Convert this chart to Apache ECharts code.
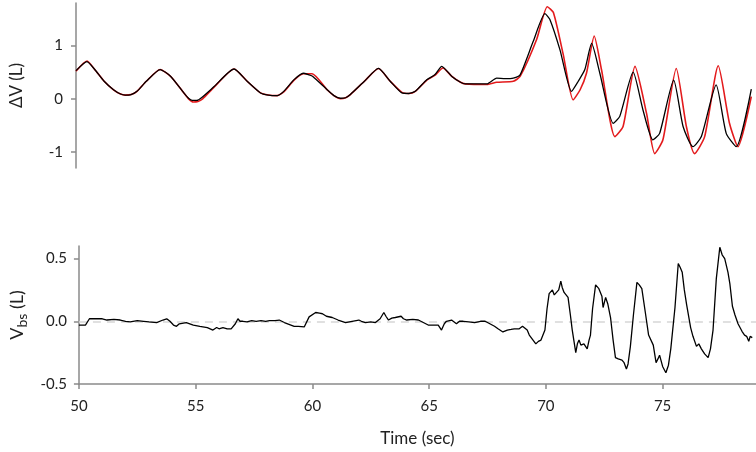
<!DOCTYPE html>
<html><head><meta charset="utf-8">
<script src="https://cdn.jsdelivr.net/npm/echarts@6/dist/echarts.min.js"></script>
<style>html,body{margin:0;padding:0;background:#fff}#c{width:756px;height:452px}</style>
</head><body><div id="c"></div>
<script>
// ---- data ----
const timeBlack = [50.0,50.47,50.8,51.2,51.6,51.9,52.1,52.35,52.6,53.0,53.59,54.04,54.6,54.8,54.96,55.15,55.35,55.89,56.74,57.3,57.87,58.2,58.58,58.86,59.3,59.69,59.93,60.1,60.71,61.0,61.28,61.5,61.7,62.3,62.9,63.4,63.9,64.2,64.47,64.96,65.3,65.6,66.03,66.4,66.6,67.52,67.94,68.3,68.65,68.94,69.5,70.0,70.21,70.64,71.13,71.42,71.7,71.99,72.34,72.91,73.19,73.76,74.18,74.6,74.89,75.49,75.89,76.31,76.67,77.3,77.73,78.16,78.8];
const dvBlack   = [0.53,0.70,0.55,0.33,0.17,0.09,0.07,0.08,0.14,0.33,0.55,0.42,0.11,0.01,-0.03,-0.03,0.02,0.23,0.56,0.33,0.11,0.07,0.06,0.14,0.36,0.48,0.45,0.42,0.17,0.06,0.01,0.02,0.08,0.33,0.57,0.33,0.11,0.10,0.14,0.36,0.45,0.61,0.42,0.31,0.28,0.28,0.39,0.38,0.39,0.45,1.08,1.60,1.49,0.92,0.14,0.33,0.55,1.04,0.48,-0.46,-0.33,0.50,-0.21,-0.77,-0.65,0.35,-0.52,-0.90,-0.71,0.26,-0.65,-0.90,0.18];
const timeRed = [50.0,50.47,50.8,51.2,51.6,51.9,52.1,52.35,52.6,53.0,53.59,54.04,54.6,54.8,55.0,55.2,55.4,55.89,56.74,57.3,57.87,58.2,58.58,58.86,59.3,59.69,60.07,60.71,61.0,61.28,61.5,61.7,62.3,62.9,63.4,63.9,64.2,64.47,64.96,65.3,65.65,66.03,66.4,66.6,67.52,67.94,68.65,68.94,69.64,70.1,70.36,70.78,71.2,71.5,71.77,72.1,72.41,72.98,73.33,73.84,74.33,74.68,75.03,75.6,76.03,76.38,76.81,77.39,77.87,78.23,78.8];
const dvRed   = [0.52,0.71,0.55,0.33,0.17,0.09,0.07,0.08,0.14,0.33,0.55,0.42,0.11,0.0,-0.06,-0.05,0.0,0.22,0.56,0.33,0.11,0.07,0.06,0.13,0.35,0.47,0.47,0.17,0.06,0.0,0.02,0.08,0.33,0.57,0.33,0.12,0.10,0.14,0.35,0.44,0.58,0.42,0.31,0.28,0.27,0.31,0.33,0.42,1.11,1.73,1.62,0.83,-0.02,0.17,0.48,1.18,0.55,-0.71,-0.52,0.61,-0.27,-1.03,-0.77,0.57,-0.52,-1.03,-0.71,0.62,-0.46,-0.90,0.04];
const timeBs = [50.0,50.28,50.45,50.5,50.78,51.0,51.2,51.5,51.77,52.0,52.2,52.5,52.77,53.0,53.33,53.6,53.76,53.9,54.05,54.18,54.3,54.6,54.9,55.18,55.5,55.74,55.9,56.0,56.17,56.35,56.52,56.7,56.81,56.9,57.02,57.2,57.4,57.59,57.8,58.0,58.16,58.4,58.58,58.8,59.08,59.22,59.4,59.65,59.86,60.14,60.3,60.43,60.6,60.85,61.1,61.42,61.7,61.99,62.1,62.27,62.5,62.7,62.9,63.06,63.15,63.26,63.4,63.55,63.8,63.9,64.04,64.3,64.54,64.75,64.96,65.2,65.39,65.53,65.65,65.74,65.96,66.17,66.3,66.46,66.7,66.95,67.2,67.4,67.6,67.8,67.95,68.16,68.35,68.51,68.65,68.72,68.86,69.0,69.08,69.2,69.29,69.45,69.57,69.68,69.79,69.96,70.05,70.14,70.28,70.36,70.43,70.55,70.64,70.7,70.78,70.95,71.05,71.13,71.28,71.35,71.42,71.5,71.63,71.7,71.77,71.85,71.91,72.0,72.13,72.27,72.4,72.45,72.56,72.65,72.77,72.88,72.98,73.1,73.26,73.35,73.45,73.52,73.62,73.75,73.9,74.0,74.11,74.26,74.4,74.6,74.72,74.8,74.87,75.0,75.14,75.25,75.35,75.53,75.67,75.75,75.84,75.93,76.03,76.2,76.3,76.45,76.55,76.66,76.8,76.95,77.05,77.16,77.3,77.45,77.55,77.66,77.8,77.88,77.99,78.1,78.23,78.4,78.51,78.6,78.69,78.75,78.84];
const vbs = [-0.03,-0.03,0.02,0.03,0.02,0.02,0.01,0.015,0.01,0.0,-0.005,0.005,0,-0.005,-0.01,0.01,0.02,0.0,-0.03,-0.04,-0.02,-0.01,-0.03,-0.04,-0.05,-0.07,-0.05,-0.06,-0.05,-0.06,-0.06,-0.02,0.02,0.0,0.0,-0.005,0.005,0.0,0.005,0.0,0.005,0.005,0.01,-0.01,-0.03,-0.04,-0.04,-0.045,0.035,0.07,0.065,0.06,0.04,0.03,0.01,-0.01,0.0,0.01,0.0,-0.01,-0.005,-0.01,0.02,0.07,0.04,0.01,0.025,0.03,0.04,0.02,0.01,0.015,0.01,-0.01,-0.03,-0.03,-0.03,-0.07,-0.02,0.0,0.01,-0.02,0.0,0.0,-0.005,-0.01,0.0,0.0,-0.02,-0.04,-0.06,-0.085,-0.07,-0.065,-0.06,-0.045,-0.06,-0.04,-0.03,-0.07,-0.11,-0.15,-0.18,-0.16,-0.15,-0.07,0.1,0.22,0.25,0.21,0.22,0.25,0.32,0.27,0.23,0.19,0.05,-0.07,-0.25,-0.18,-0.15,-0.19,-0.18,-0.17,-0.22,-0.15,-0.11,0.1,0.29,0.26,0.2,0.11,0.19,0.14,0.03,-0.15,-0.29,-0.3,-0.31,-0.33,-0.38,-0.34,-0.2,0.05,0.31,0.29,0.26,0.07,-0.11,-0.19,-0.33,-0.3,-0.27,-0.36,-0.41,-0.35,-0.22,0.11,0.46,0.43,0.39,0.25,0.13,-0.05,-0.12,-0.2,-0.18,-0.22,-0.26,-0.29,-0.22,-0.07,0.34,0.59,0.53,0.5,0.39,0.3,0.12,0.05,-0.02,-0.08,-0.11,-0.12,-0.16,-0.12,-0.13];
const xTicks = [50,55,60,65,70,75];
const dvTicks = [-1,0,1];
const bsTicks = [-0.5,0,0.5];

const pairs = (xs, ys) => xs.map((x, i) => [x, ys[i]]);
const FONT = 'Lato, "Open Sans", sans-serif';
const axisGray = '#8a8a8a';
const lblStyle = {color:'#222', fontSize:15, fontFamily:FONT};

const chart = echarts.init(document.getElementById('c'), null, {renderer:'canvas'});
chart.setOption({
  animation:false,
  grid:[
    {left:75, right:0, top:3, height:165},
    {left:75, right:0, top:246, height:138}
  ],
  xAxis:[
    {gridIndex:0, type:'value', min:50, max:79, show:false, axisLine:{onZero:false}},
    {gridIndex:1, type:'value', min:50, max:79,
     axisLine:{onZero:false, lineStyle:{color:axisGray, width:1.5}},
     axisTick:{show:true, length:5, customValues:xTicks, lineStyle:{color:axisGray, width:1.5}},
     axisLabel:{...lblStyle, margin:15, customValues:xTicks},
     splitLine:{show:false},
     name:'Time (sec)', nameLocation:'middle', nameGap:46,
     nameTextStyle:{color:'#222', fontSize:17, fontFamily:FONT}}
  ],
  yAxis:[
    {gridIndex:0, type:'value', min:-1.3, max:1.8,
     axisLine:{show:true, onZero:false, lineStyle:{color:axisGray, width:1.5}},
     axisTick:{show:true, length:5, customValues:dvTicks, lineStyle:{color:axisGray, width:1.5}},
     axisLabel:{...lblStyle, margin:13, customValues:dvTicks, formatter:v=>String(v)},
     splitLine:{show:false},
     name:'ΔV (L)', nameLocation:'middle', nameGap:51, nameRotate:90,
     nameTextStyle:{color:'#222', fontSize:17, fontFamily:FONT}},
    {gridIndex:1, type:'value', min:-0.5, max:0.6,
     axisLine:{show:true, onZero:false, lineStyle:{color:axisGray, width:1.5}},
     axisTick:{show:true, length:5, customValues:bsTicks, lineStyle:{color:axisGray, width:1.5}},
     axisLabel:{...lblStyle, margin:12, customValues:bsTicks, formatter:v=>Number(v).toFixed(1)},
     splitLine:{show:false},
     name:'{v|V}{s|bs}{v| (L)}', nameLocation:'middle', nameGap:49, nameRotate:90,
     nameTextStyle:{color:'#222', fontFamily:FONT,
       rich:{v:{fontSize:18, fontFamily:FONT, color:'#222'},
             s:{fontSize:14, fontFamily:FONT, color:'#222', padding:[11,0,0,0]}}}}
  ],
  series:[
    {type:'line', xAxisIndex:1, yAxisIndex:1, data:[], showSymbol:false, z:1,
     markLine:{silent:true, symbol:['none','none'], label:{show:false}, z:1,
       lineStyle:{color:'#d6d6d6', type:[8,6], width:1.5}, data:[{yAxis:0}]}},
    {type:'line', xAxisIndex:0, yAxisIndex:0, data:pairs(timeRed, dvRed), showSymbol:false,
     smooth:0.2, lineStyle:{color:'#e31a1c', width:1.6}, z:2},
    {type:'line', xAxisIndex:0, yAxisIndex:0, data:pairs(timeBlack, dvBlack), showSymbol:false,
     smooth:0.2, lineStyle:{color:'#000', width:1.3}, z:3},
    {type:'line', xAxisIndex:1, yAxisIndex:1, data:pairs(timeBs, vbs), showSymbol:false,
     lineStyle:{color:'#000', width:1.3}, z:3}
  ]
});
</script></body></html>
